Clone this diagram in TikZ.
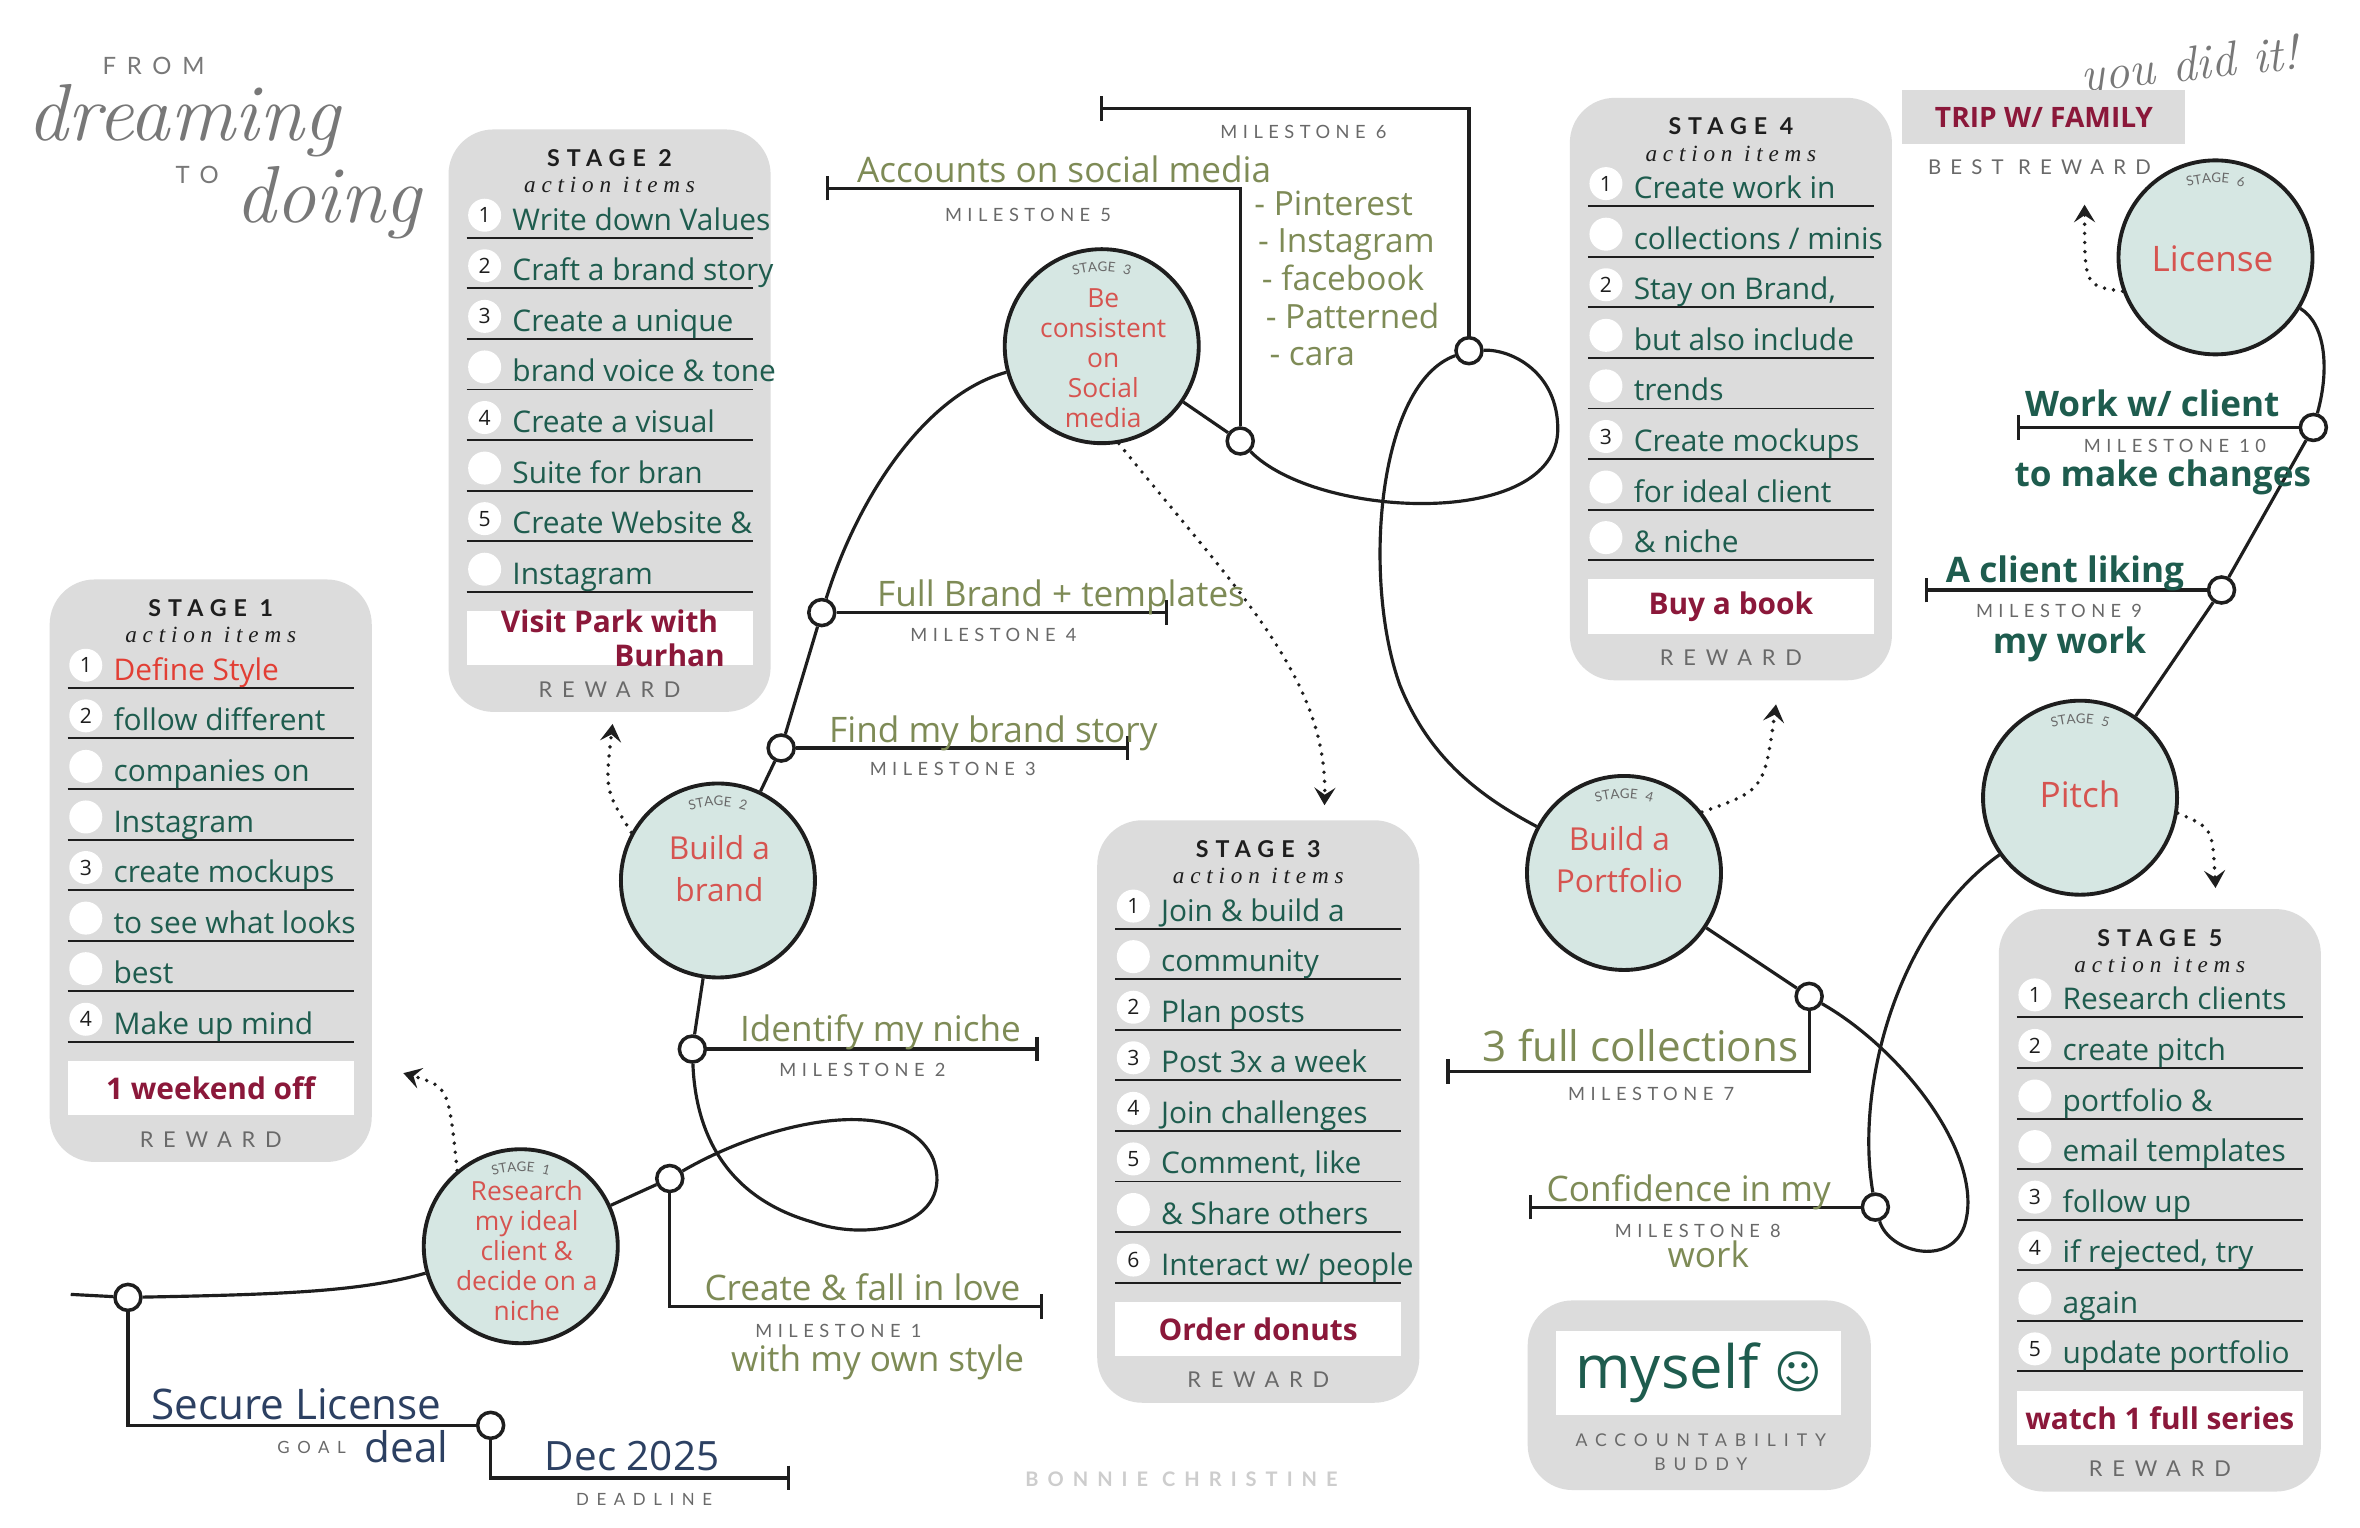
\documentclass[tikz,border=0pt]{standalone}
\usepackage{fontspec}
\usepackage{tikz}
\usetikzlibrary{positioning,arrows.meta,fit,backgrounds,decorations.text,calc}
\newfontfamily\handfont{Open Sans}
\newfontfamily\capsfont{Lato}[LetterSpace=30]
\newfontfamily\widecaps{Lato}[LetterSpace=45]
\newfontfamily\subfont{Liberation Serif}[LetterSpace=25]
\newfontfamily\symfont{DejaVu Sans}
\definecolor{cardgray}{RGB}{220,220,220}
\definecolor{mint}{RGB}{214,231,227}
\definecolor{ink}{RGB}{30,30,30}
\definecolor{inkteal}{RGB}{30,92,78}
\definecolor{inkred}{RGB}{214,84,80}
\definecolor{brightred}{RGB}{226,62,52}
\definecolor{wine}{RGB}{139,24,58}
\definecolor{olive}{RGB}{126,139,86}
\definecolor{navy}{RGB}{44,64,98}
\definecolor{labelgray}{RGB}{105,105,105}
\definecolor{scriptgray}{RGB}{120,120,120}
\definecolor{faintgray}{RGB}{205,205,205}

\newcommand{\stagearcfont}{\capsfont\fontsize{3.8}{4}\selectfont\color{labelgray}}
% one grey card of action items: left, top, stage, rows, reward
\newcommand{\actioncard}[5]{%
  \node[card, fit={(#1,#2) ({#1+214},{#2+387})}] (card#3) {};
  \node[cardtitle] (title#3) at ({#1+107},{#2+19}) {STAGE #3};
  \node[cardsub] (sub#3) at ({#1+107},{#2+37}) {action items};
  \foreach \nm/\txt [count=\ri from 0] in {#4}{
    \draw[rowline] ({#1+12},{#2+72+33.6*\ri}) -- ({#1+202},{#2+72+33.6*\ri});
    \node[tickcircle] (tick#3-\ri) at ({#1+24},{#2+57+33.6*\ri}) {\nm};
    \node[itemtext] (item#3-\ri) at ({#1+42},{#2+67+33.6*\ri}) {\txt};
  }
  \node[whitebox, fit={({#1+12},{#2+320}) ({#1+202},{#2+356})}] (rbox#3) {};
  \node[rewardtext] (reward#3) at (rbox#3) {#5};
  \node[graycaps] (rlabel#3) at ({#1+107},{#2+372}) {REWARD};
}
% curved STAGE n over a circle
\newcommand{\stagearc}[2]{%
  \path[decorate, decoration={text along path, text align=center,
      text={|\stagearcfont|STAGE #2}}]
    ([shift={(-40,-36)}]#1.center) .. controls ([shift={(-15,-54)}]#1.center)
    and ([shift={(15,-54)}]#1.center) .. ([shift={(40,-36)}]#1.center);
}

\begin{document}
\begin{tikzpicture}[x=0.1505mm, y=-0.1505mm,
  card/.style={fill=cardgray, rounded corners=4.5mm, inner sep=0pt},
  whitebox/.style={fill=white, inner sep=0pt},
  cardtitle/.style={font=\capsfont\bfseries\fontsize{6.6}{7}\selectfont, text=ink},
  cardsub/.style={font=\subfont\itshape\fontsize{6.6}{7}\selectfont, text=ink},
  rowline/.style={line width=0.55pt, ink},
  tickcircle/.style={circle, fill=white, minimum size=3.3mm, inner sep=0pt,
    font=\handfont\fontsize{6}{6}\selectfont, text=ink},
  itemtext/.style={anchor=base west, inner sep=0pt,
    font=\handfont\fontsize{8.5}{9}\selectfont, text=inkteal},
  rewardtext/.style={font=\handfont\bfseries\fontsize{8.5}{9.5}\selectfont,
    text=wine, align=center, inner sep=0pt},
  graycaps/.style={font=\widecaps\fontsize{6.2}{6.5}\selectfont, text=labelgray},
  mslabel/.style={font=\capsfont\fontsize{5.2}{5.5}\selectfont, text=labelgray},
  olivehand/.style={anchor=base, inner sep=0pt,
    font=\handfont\fontsize{10}{10}\selectfont, text=olive},
  tealhand/.style={anchor=base, inner sep=0pt,
    font=\handfont\bfseries\fontsize{10}{11}\selectfont, text=inkteal},
  navyhand/.style={anchor=base, inner sep=0pt,
    font=\handfont\fontsize{12}{12}\selectfont, text=navy},
  scripttext/.style={font=\itshape\fontsize{23}{23}\selectfont, text=scriptgray, inner sep=0pt},
  stagecircle/.style={circle, draw=ink, line width=1.1pt, fill=mint,
    minimum size=19.4mm, inner sep=0pt},
  circletext/.style={align=center, text=inkred, inner sep=0pt,
    font=\handfont\fontsize{7.5}{8.5}\selectfont},
  milestone/.style={circle, draw=ink, line width=1pt, fill=white,
    minimum size=2.6mm, inner sep=0pt},
  road/.style={line width=0.9pt, ink},
  bracket/.style={road, -{Bar[width=7pt]}},
  dotarrow/.style={ink, line width=1.1pt, dash pattern=on 0pt off 2.6pt,
    line cap=round, -{Stealth[length=5pt, width=6pt, inset=2pt]}}
]
\begin{scope}[on background layer]
  \path[use as bounding box, fill=white] (0,0) rectangle (1568,1015);
\end{scope}

% title
\node[font=\widecaps\fontsize{6.8}{7}\selectfont, text=scriptgray] (from) at (102,44) {FROM};
\node[scripttext] (dreaming) at (122,80) {dreaming};
\node[font=\widecaps\fontsize{6.8}{7}\selectfont, text=scriptgray, inner sep=0pt] (to) at (131,116) {TO};
\node[scripttext] (doing) at (218,135) {doing};
\node[scripttext, font=\itshape\fontsize{14}{14}\selectfont, rotate=6] (youdid) at (1455,45) {you did it!};

% action cards
\actioncard{33}{385}{1}{1/\textcolor{brightred}{Define Style}, 2/follow different,
  /companies on, /Instagram, 3/create mockups, /to see what looks, /best, 4/Make up mind}{1 weekend off}
\actioncard{298}{86}{2}{1/Write down Values, 2/Craft a brand story, 3/Create a unique,
  /brand voice \& tone, 4/Create a visual, /Suite for bran, 5/Create Website \&, /Instagram}%
  {Visit Park with\\\hspace*{12mm}Burhan}
\actioncard{729}{545}{3}{1/Join \& build a, /community, 2/Plan posts, 3/Post 3x a week,
  4/Join challenges, 5/{Comment, like}, /\& Share others, 6/{Interact w/ people}}{Order donuts}
\actioncard{1043}{65}{4}{1/Create work in, /{collections / minis}, 2/{Stay on Brand,},
  /but also include, /trends, 3/Create mockups, /for ideal client, /\& niche}{Buy a book}
\actioncard{1328}{604}{5}{1/Research clients, 2/create pitch, /portfolio \&, /email templates,
  3/follow up, 4/{if rejected, try}, /again, 5/update portfolio}{watch 1 full series}

% best reward and buddy
\node[fill=cardgray, inner sep=0pt, fit={(1264,60) (1452,96)}] (bestbox) {};
\node[font=\handfont\bfseries\fontsize{8}{9}\selectfont, text=wine] (best) at (bestbox) {TRIP W/ FAMILY};
\node[font=\widecaps\fontsize{5.8}{6}\selectfont, text=labelgray] (bestlabel) at (1355,111) {BEST REWARD};
\node[card, fit={(1015,864) (1243,990)}] (buddycard) {};
\node[whitebox, fit={(1034,884) (1223,940)}] (buddybox) {};
\node[font=\handfont\fontsize{17}{17}\selectfont, text=inkteal] (myself) at (buddybox)
  {myself {\symfont\fontsize{13}{13}\selectfont ☺}};
\node[font=\widecaps\fontsize{5}{5}\selectfont, text=labelgray] (acc) at (1130,957) {ACCOUNTABILITY};
\node[font=\widecaps\fontsize{5}{5}\selectfont, text=labelgray] (buddy) at (1130,973) {BUDDY};
\node[font=\widecaps\bfseries\fontsize{5.7}{6}\selectfont, text=faintgray] (credit) at (785,983) {BONNIE CHRISTINE};

% stages
\node[stagecircle] (s1) at (346,828) {};
\node[stagecircle] (s2) at (477,585) {};
\node[stagecircle] (s3) at (732,230) {};
\node[stagecircle] (s4) at (1079,580) {};
\node[stagecircle] (s5) at (1382,530) {};
\node[stagecircle] (s6) at (1472,171) {};
\foreach \s/\n in {s1/1,s2/2,s3/3,s4/4,s5/5,s6/6}{\stagearc{\s}{\n}}
\node[circletext] (s1text) at (350,831) {Research\\my ideal\\client \&\\decide on a\\niche};
\node[circletext, font=\handfont\fontsize{9}{12}\selectfont] (s2text) at (478,577) {Build a\\brand};
\node[circletext] (s3text) at (733,238) {Be\\consistent\\on\\Social\\media};
\node[circletext, font=\handfont\fontsize{9}{12}\selectfont] (s4text) at (1076,571) {Build a\\Portfolio};
\node[circletext, font=\handfont\fontsize{10}{12}\selectfont] (s5text) at (1382,528) {Pitch};
\node[circletext, font=\handfont\fontsize{10}{12}\selectfont] (s6text) at (1470,172) {License};

% milestones
\node[milestone] (goal) at (85,862) {};
\node[milestone] (dl) at (326,947) {};
\node[milestone] (m1) at (445,783) {};
\node[milestone] (m2) at (460,697) {};
\node[milestone] (m3) at (519,497) {};
\node[milestone] (m4) at (546,407) {};
\node[milestone] (m5) at (824,293) {};
\node[milestone] (m6) at (976,233) {};
\node[milestone] (m7) at (1202,662) {};
\node[milestone] (m8) at (1246,802) {};
\node[milestone] (m9) at (1476,392) {};
\node[milestone] (m10) at (1537,284) {};

\coordinate (start) at (47,860);
\coordinate (dlend) at (525,982);
\coordinate (m1end) at (693,868);
\coordinate (m2end) at (690,697);
\coordinate (m3end) at (750,497);
\coordinate (m4end) at (776,407);
\coordinate (m5end) at (549,125);
\coordinate (m6end) at (731,72);
\coordinate (m7end) at (961,712);
\coordinate (m8end) at (1016,802);
\coordinate (m9end) at (1279,392);
\coordinate (m10end) at (1340,284);

\begin{scope}[on background layer]
  % the road
  \draw[road] (start) -- (goal) .. controls (190,860) and (240,858) .. (s1);
  \draw[road] (s1) -- (m1);
  \draw[road] (m1) .. controls (510,745) and (600,725) .. (620,770)
    .. controls (635,812) and (580,826) .. (540,812)
    .. controls (480,795) and (462,750) .. (m2);
  \draw[road] (m2) -- (s2) -- (m3) -- (m4);
  \draw[road] (m4) .. controls (570,330) and (615,262) .. (s3);
  \draw[road] (s3) -- (m5) .. controls (875,345) and (1035,352) .. (1035,285)
    .. controls (1035,248) and (1005,232) .. (m6);
  \draw[road] (m6) .. controls (915,255) and (905,385) .. (930,455)
    .. controls (950,505) and (985,530) .. (s4);
  \draw[road] (s4) -- (m7) .. controls (1265,698) and (1320,770) .. (1305,815)
    .. controls (1295,842) and (1255,832) .. (m8);
  \draw[road] (m8) .. controls (1232,720) and (1262,615) .. (s5);
  \draw[road] (s5) -- (m9) -- (m10) .. controls (1548,245) and (1545,215) .. (s6);
  % brackets
  \draw[road] (goal) |- (dl);
  \draw[bracket] (dl) |- (dlend);
  \draw[bracket] (m1) |- (m1end);
  \draw[bracket] (m2) -- (m2end);
  \draw[bracket] (m3) -- (m3end);
  \draw[bracket] (m4) -- (m4end);
  \draw[bracket] (m5) |- (m5end);
  \draw[bracket] (m6) |- (m6end);
  \draw[bracket] (m7) |- (m7end);
  \draw[bracket] (m8) -- (m8end);
  \draw[bracket] (m9) -- (m9end);
  \draw[bracket] (m10) -- (m10end);
\end{scope}

% labels
\node[navyhand] (goaltext) at (197,943) {Secure License};
\node[font=\widecaps\fontsize{4.8}{5}\selectfont, text=labelgray] (goallabel) at (207,962) {GOAL};
\node[navyhand] (deal) at (270,972) {deal};
\node[navyhand, font=\handfont\fontsize{11.5}{12}\selectfont] (dltext) at (420,977) {Dec 2025};
\node[font=\widecaps\fontsize{4.8}{5}\selectfont, text=labelgray] (dllabel) at (428,996) {DEADLINE};

\node[olivehand] (m1text) at (573,864) {Create \& fall in love};
\node[mslabel] (m1label) at (557,884) {MILESTONE 1};
\node[olivehand] (m1more) at (583,911) {with my own style};
\node[olivehand] (m2text) at (585,692) {Identify my niche};
\node[mslabel] (m2label) at (573,711) {MILESTONE 2};
\node[olivehand] (m3text) at (660,493) {Find my brand story};
\node[mslabel] (m3label) at (633,511) {MILESTONE 3};
\node[olivehand] (m4text) at (705,403) {Full Brand + templates};
\node[mslabel] (m4label) at (660,422) {MILESTONE 4};
\node[olivehand] (m5text) at (707,121) {Accounts on social media};
\node[mslabel] (m5label) at (683,143) {MILESTONE 5};
\foreach \site [count=\k from 0] in {Pinterest, Instagram, facebook, Patterned, cara}{
  \node[olivehand, anchor=base west, font=\handfont\fontsize{9.5}{10}\selectfont]
    (site\k) at ({833+2.5*\k},{143+25*\k}) {- \site};
}
\node[mslabel] (m6label) at (866,88) {MILESTONE 6};
\node[olivehand, font=\handfont\fontsize{12}{12}\selectfont] (m7text) at (1090,705) {3 full collections};
\node[mslabel] (m7label) at (1097,727) {MILESTONE 7};
\node[olivehand] (m8text) at (1122,798) {Confidence in my};
\node[mslabel] (m8label) at (1128,818) {MILESTONE 8};
\node[olivehand] (m8more) at (1135,842) {work};
\node[tealhand] (m9text) at (1372,387) {A client liking};
\node[mslabel] (m9label) at (1368,406) {MILESTONE 9};
\node[tealhand] (m9more) at (1375,434) {my work};
\node[tealhand] (m10text) at (1430,277) {Work w/ client};
\node[mslabel] (m10label) at (1445,296) {MILESTONE 10};
\node[tealhand] (m10more) at (1437,323) {to make changes};

% dotted links to the cards
\coordinate (r1) at (268,713);
\coordinate (r2) at (407,481);
\coordinate (r3) at (880,535);
\coordinate (r4) at (1180,468);
\coordinate (r5) at (1472,590);
\coordinate (r6) at (1385,136);
\draw[dotarrow] (s1.130) .. controls (298,722) .. (r1);
\draw[dotarrow] (s2.151) .. controls (402,525) .. (r2);
\draw[dotarrow] (s3.-80) .. controls (820,390) and (882,450) .. (r3);
\draw[dotarrow] (s4.38) .. controls (1172,525) .. (r4);
\draw[dotarrow] (s5.-9) .. controls (1470,550) .. (r5);
\draw[dotarrow] (s6.200) .. controls (1385,190) .. (r6);
\end{tikzpicture}
\end{document}
